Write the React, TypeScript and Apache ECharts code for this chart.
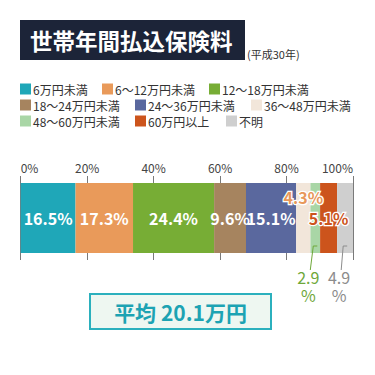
import React, { useEffect, useRef } from "react";
import * as echarts from "echarts";

const categories = [
  "6万円未満",
  "6～12万円未満",
  "12～18万円未満",
  "18～24万円未満",
  "24～36万円未満",
  "36～48万円未満",
  "48～60万円未満",
  "60万円以上",
  "不明",
];
const values = [16.5, 17.3, 24.4, 9.6, 15.1, 4.3, 2.9, 5.1, 4.9];
const colors = [
  "#1fa7b8",
  "#e99a5a",
  "#77ad35",
  "#a6845f",
  "#5a689e",
  "#f2e6da",
  "#a9d6a6",
  "#cc541c",
  "#cfcfcf",
];
const xTicks = [0, 20, 40, 60, 80, 100];
const titleText = "世帯年間払込保険料";
const subTitle = "(平成30年)";
const averageText = "平均 20.1万円";

const FONT = '"Noto Sans CJK JP", "Noto Sans", sans-serif';
const BAR_W = 70;

// legend item positions (left, top)
const legendPos = [
  [20, 83], [102, 83], [209, 83],
  [20, 99], [135, 99], [251, 99],
  [20, 115], [135, 115], [226, 115],
];

export default function App() {
  const ref = useRef<HTMLDivElement>(null);
  useEffect(() => {
    if (!ref.current) return;
    const chart = echarts.init(ref.current, null, { renderer: "svg" });

    const labelFor = (i: number): any => {
      const base = { show: true, fontFamily: FONT, fontSize: 16 };
      if (i <= 4)
        return { ...base, position: "inside", color: "#fff", fontWeight: "bold", formatter: "{c}%" };
      if (i === 5)
        return {
          ...base, position: "inside", offset: [0, -21], color: "#e8985a", fontWeight: "bold",
          textBorderColor: "#fff", textBorderWidth: 2.5, formatter: "{c}%",
        };
      if (i === 7)
        return {
          ...base, position: "inside", color: "#cc541c", fontWeight: "bold",
          textBorderColor: "#fff", textBorderWidth: 2.5, formatter: "{c}%",
        };
      if (i === 6)
        return {
          ...base, position: "bottom", distance: 15, offset: [-7, 0], color: "#6fa83a",
          lineHeight: 18, formatter: "{c}\n%",
        };
      return {
        ...base, position: "bottom", distance: 15, offset: [-6, 0], color: "#8c8c8c",
        lineHeight: 18, formatter: "{c}\n%",
      };
    };

    const series = categories.map((name, i) => ({
      name,
      type: "bar",
      stack: "total",
      barWidth: BAR_W,
      data: [values[i]],
      itemStyle: { color: colors[i] },
      label: labelFor(i),
      z: 3,
    }));

    const legends = categories.map((name, i) => ({
      data: [name],
      left: legendPos[i][0],
      top: legendPos[i][1],
      padding: 0,
      itemGap: 0,
      itemWidth: 11,
      itemHeight: 11,
      icon: "rect",
      selectedMode: false,
      textStyle: { fontFamily: FONT, fontSize: 12, color: "#333", padding: [0, 0, 0, -3] },
    }));

    chart.setOption({
      animation: false,
      color: colors,
      legend: legends,
      grid: { left: 20.7, right: 22, top: 176, height: 84 },
      xAxis: {
        type: "value",
        position: "top",
        min: xTicks[0],
        max: xTicks[xTicks.length - 1],
        interval: xTicks[1] - xTicks[0],
        axisLine: { show: false },
        axisTick: { show: false },
        splitLine: { show: true, lineStyle: { color: "#7a7a7a", width: 1 } },
        axisLabel: {
          formatter: "{value}%",
          margin: 3,
          color: "#444",
          fontSize: 12,
          fontFamily: FONT,
          alignMinLabel: "left",
          alignMaxLabel: "right",
        },
      },
      yAxis: {
        type: "category",
        data: [""],
        show: false,
      },
      series,
    });

    // leader lines for small segments
    const cum: number[] = [];
    values.reduce((acc, v, i) => {
      cum[i] = acc;
      return acc + v;
    }, 0);
    const yc = chart.convertToPixel({ yAxisIndex: 0 }, 0) as number;
    const barBottom = yc + BAR_W / 2;
    const lines: any[] = [];
    [
      { i: 6, off: -7, color: "#6fa83a" },
      { i: 8, off: -6, color: "#8c8c8c" },
    ].forEach(({ i, off, color }) => {
      const cx = chart.convertToPixel({ xAxisIndex: 0 }, cum[i] + values[i] / 2) as number;
      const hy = barBottom - 7;
      lines.push({
        type: "polyline",
        z: 10,
        shape: {
          points: [
            [cx + 2, hy],
            [cx - 2, hy],
            [cx + off + 2, barBottom + 17],
          ],
        },
        style: { stroke: color, lineWidth: 1, fill: null },
      });
    });

    chart.setOption({
      graphic: [
        {
          type: "rect",
          shape: { x: 20, y: 20, width: 225, height: 40 },
          style: { fill: "#1c2438" },
        },
        {
          type: "text",
          x: 30,
          y: 40,
          style: {
            text: titleText,
            fill: "#fff",
            font: `bold 22.5px ${FONT}`,
            align: "left",
            textAlign: "left",
            verticalAlign: "middle",
            textVerticalAlign: "middle",
          },
        },
        {
          type: "text",
          x: 247,
          y: 54,
          style: {
            text: subTitle,
            fill: "#333",
            font: `11px ${FONT}`,
            align: "left",
            textAlign: "left",
            verticalAlign: "middle",
            textVerticalAlign: "middle",
          },
        },
        {
          type: "rect",
          shape: { x: 90, y: 294, width: 181, height: 35 },
          style: { fill: "#eef7f1", stroke: "#2bb0bd", lineWidth: 2 },
        },
        {
          type: "text",
          x: 180.5,
          y: 312,
          style: {
            text: averageText,
            fill: "#1ca3b3",
            font: `bold 21px ${FONT}`,
            align: "center",
            textAlign: "center",
            verticalAlign: "middle",
            textVerticalAlign: "middle",
          },
        },
        ...lines,
      ],
    });

    return () => chart.dispose();
  }, []);

  return (
    <div
      ref={ref}
      style={{ position: "fixed", left: 0, top: 0, width: 375, height: 375, background: "#fff" }}
    />
  );
}
